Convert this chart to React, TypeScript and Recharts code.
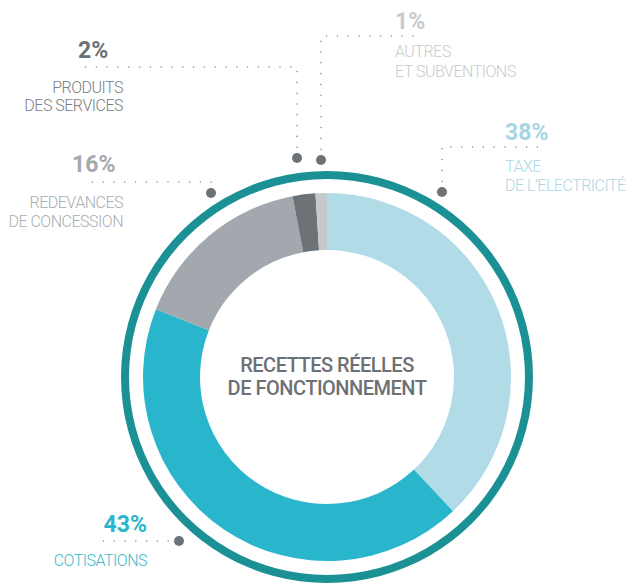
import React from 'react';
import { PieChart, Pie, Cell } from 'recharts';

// recettes réelles de fonctionnement, part en %
const sliceNames = [
  'Taxe de l’électricité',
  'Cotisations',
  'Redevances de concession',
  'Produits des services',
  'Autres et subventions',
];
const shares = [38, 43, 16, 2, 1];
const labelLines = [
  ['TAXE', 'DE L’ELECTRICITÉ'],
  ['COTISATIONS'],
  ['REDEVANCES', 'DE CONCESSION'],
  ['PRODUITS', 'DES SERVICES'],
  ['AUTRES', 'ET SUBVENTIONS'],
];
const centerTitle = ['RECETTES RÉELLES', 'DE FONCTIONNEMENT'];

const sliceColors = ['#b1dce7', '#29b6cc', '#a2a8ad', '#6d7276', '#c6c9cc'];
const pctColors = ['#a6d6e3', '#29b5cb', '#a3a9ae', '#6b7074', '#c8cbce'];
const nameColors = ['#abd8e4', '#3bb9cd', '#a8aeb2', '#7b8084', '#c8cbce'];

// callout layout, offsets from the pie centre
type Anchor = 'start' | 'end';
const callouts: {
  path: number[][];
  pct: { x: number; y: number; anchor: Anchor };
  names: { x: number; y: number[]; anchor: Anchor };
}[] = [
  { path: [[115, -185], [115, -230], [219, -230]], pct: { x: 178, y: -237, anchor: 'start' }, names: { x: 178, y: [-205, -186], anchor: 'start' } },
  { path: [[-148, 164], [-227, 164]], pct: { x: -180, y: 155, anchor: 'end' }, names: { x: -180, y: [189], anchor: 'end' } },
  { path: [[-116, -184], [-116, -195], [-244, -195]], pct: { x: -255, y: -205, anchor: 'start' }, names: { x: -204, y: [-169, -150], anchor: 'end' } },
  { path: [[-30, -219], [-30, -310], [-249, -310]], pct: { x: -249, y: -319, anchor: 'start' }, names: { x: -204, y: [-284, -266], anchor: 'end' } },
  { path: [[-6, -217], [-6, -341], [87, -341]], pct: { x: 68, y: -348, anchor: 'start' }, names: { x: 68, y: [-320, -300], anchor: 'start' } },
];

const data = sliceNames.map((name, i) => ({ name, value: shares[i] }));
const FONT = 'Roboto, sans-serif';

const renderCallout = (props: any) => {
  const { cx, cy, index } = props;
  const c = callouts[index];
  const d = c.path.map((p, i) => `${i ? 'L' : 'M'}${cx + p[0]},${cy + p[1]}`).join(' ');
  const dot = c.path[0];
  return (
    <g key={`callout-${index}`}>
      <path d={d} fill="none" stroke="#8b8f92" strokeWidth={1.6} strokeDasharray="0 10.8" strokeLinecap="round" />
      <circle cx={cx + dot[0]} cy={cy + dot[1]} r={5} fill="#6d7276" />
      <text x={cx + c.pct.x} y={cy + c.pct.y} textAnchor={c.pct.anchor} fill={pctColors[index]} fontFamily={FONT} fontWeight={700} fontSize={23}>
        {`${shares[index]}%`}
      </text>
      {labelLines[index].map((line, j) => (
        <text key={j} x={cx + c.names.x} y={cy + c.names.y[j]} textAnchor={c.names.anchor} fill={nameColors[index]} fontFamily={FONT} fontWeight={300} fontSize={16} letterSpacing={-0.5}>
          {line}
        </text>
      ))}
    </g>
  );
};

const renderTitle = (props: any) => {
  const { cx, cy } = props;
  return (
    <g key="title">
      {centerTitle.map((line, j) => (
        <text key={j} x={cx} y={cy - 5 + j * 23} textAnchor="middle" fill="#6d7175" fontFamily={FONT} fontWeight={500} fontSize={20} letterSpacing={-0.5}>
          {line}
        </text>
      ))}
    </g>
  );
};

const App: React.FC = () => {
  return (
    <div style={{ position: 'absolute', left: 0, top: 0, background: '#ffffff' }}>
      <PieChart width={641} height={585} margin={{ top: 0, right: 0, bottom: 0, left: 0 }}>
        <Pie
          data={[{ name: 'ring', value: 1 }]}
          dataKey="value"
          cx={327}
          cy={377}
          innerRadius={198}
          outerRadius={206}
          startAngle={90}
          endAngle={-270}
          fill="#1c9195"
          stroke="none"
          label={renderTitle}
          labelLine={false}
          isAnimationActive={false}
        />
        <Pie
          data={data}
          dataKey="value"
          nameKey="name"
          cx={327}
          cy={377}
          innerRadius={127}
          outerRadius={184}
          startAngle={90}
          endAngle={-270}
          stroke="none"
          label={renderCallout}
          labelLine={false}
          isAnimationActive={false}
        >
          {data.map((d, i) => (
            <Cell key={d.name} fill={sliceColors[i]} />
          ))}
        </Pie>
      </PieChart>
    </div>
  );
};

export default App;
